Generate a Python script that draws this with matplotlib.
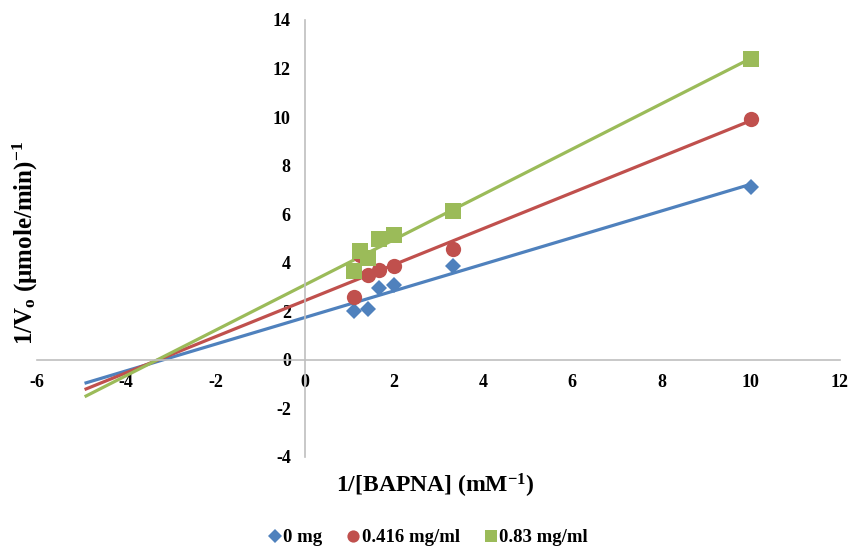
import numpy as np
import matplotlib
matplotlib.use("Agg")
import matplotlib.pyplot as plt

plt.rcParams['font.family'] = ['Liberation Serif', 'DejaVu Serif']
plt.rcParams['font.weight'] = 'bold'
plt.rcParams['axes.unicode_minus'] = False
plt.rcParams['mathtext.fontset'] = 'custom'
plt.rcParams['mathtext.rm'] = 'Liberation Serif:bold'
plt.rcParams['mathtext.bf'] = 'Liberation Serif:bold'
plt.rcParams['mathtext.it'] = 'Liberation Serif:bold'

# 1/[BAPNA] values (mM^-1) and 1/V0 for each inhibitor concentration
x_0mg = [1.11, 1.43, 1.67, 2.0, 3.33, 10.0]
y_0mg = [2.03, 2.1, 2.97, 3.09, 3.87, 7.13]
x_0416 = [1.11, 1.25, 1.43, 1.67, 2.0, 3.33, 10.0]
y_0416 = [2.6, 4.3, 3.5, 3.72, 3.88, 4.55, 9.93]
x_083 = [1.11, 1.25, 1.43, 1.67, 2.0, 3.33, 10.0]
y_083 = [3.65, 4.5, 4.2, 5.0, 5.13, 6.12, 12.4]

labels = ["0 mg", "0.416 mg/ml", "0.83 mg/ml"]
colors = ["#4F81BD", "#C0504D", "#9BBB59"]
markers = ["D", "o", "s"]
msizes = [8.5, 11, 11]

fig = plt.figure(figsize=(8.48, 5.48), dpi=100)
ax = fig.add_axes([37/848, 1-457/548, 803/848, 437/548])

series = [(x_0mg, y_0mg), (x_0416, y_0416), (x_083, y_083)]
for (xv, yv), lab, c, m, ms in zip(series, labels, colors, markers, msizes):
    x = np.array(xv)
    slope, icpt = np.polyfit(x, np.array(yv), 1)
    xfit = np.array([-4.9, x.max()])
    ax.plot(xfit, slope*xfit + icpt, color=c, lw=2.3, zorder=2)
    ax.plot(x, yv, linestyle='none', marker=m, color=c, markersize=ms,
            label=lab, zorder=3, markeredgewidth=0)

ax.set_xlim(-6, 12)
ax.set_ylim(-4, 14)
ax.set_xticks(np.arange(-6, 13, 2))
ax.set_yticks(np.arange(-4, 15, 2))

for s in ['top', 'right']:
    ax.spines[s].set_visible(False)
ax.spines['left'].set_position(('data', 0))
ax.spines['bottom'].set_position(('data', 0))
for s in ['left', 'bottom']:
    ax.spines[s].set_color('#BFBFBF')
    ax.spines[s].set_linewidth(1.2)
ax.tick_params(length=0, labelsize=13, pad=10)
for t in ax.get_xticklabels() + ax.get_yticklabels():
    t.set_fontweight('bold')

ax.set_xlabel(r'1/[BAPNA] (mM$^{-1}$)', fontsize=17, fontweight='bold')
ax.xaxis.set_label_coords(0.496, -0.035)
ax.set_ylabel(r'1/V$_{\mathrm{o}}$ ($\mathrm{\mu}$mole/min)$^{-1}$', fontsize=18, fontweight='bold')
ax.yaxis.set_label_coords(0.004, 0.49)

ax.legend(loc='center', bbox_to_anchor=(0.487, -0.185), ncol=3, frameon=False,
          prop={'weight': 'bold', 'size': 13.5}, handlelength=0.7, handletextpad=0.1,
          columnspacing=1.3, markerscale=0.8)

fig.savefig("out.png", dpi=100)
